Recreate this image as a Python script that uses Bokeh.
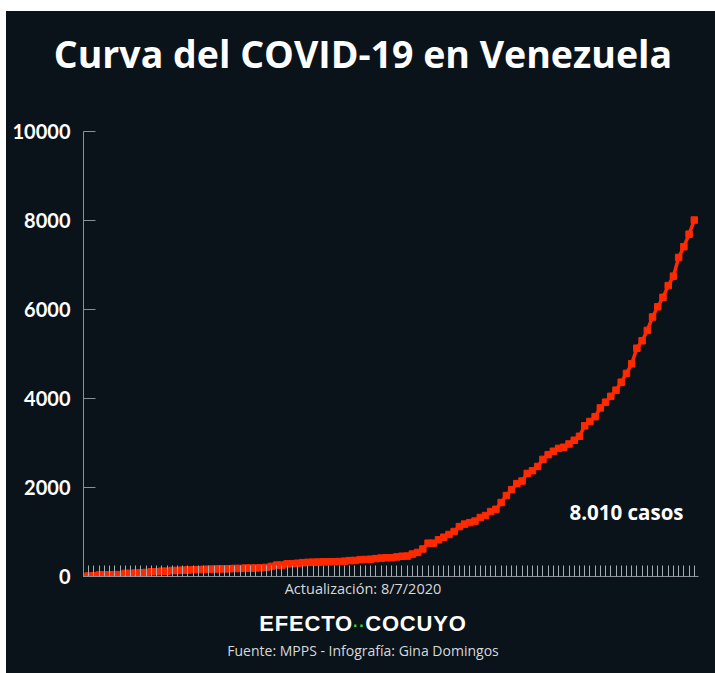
import pandas as pd
from bokeh.plotting import figure
from bokeh.models import Label, FixedTicker, Range1d, ColumnDataSource, Div, Spacer
from bokeh.layouts import column, row
from bokeh.embed import file_html
from bokeh.resources import INLINE

# ---- data ----
dates = pd.date_range("2020-03-13", "2020-07-08").strftime("%d/%m/%Y").tolist()
cases = [
    2, 10, 17, 33, 36, 36, 42, 42, 70, 70, 77, 84, 91, 107, 107, 119, 119, 135, 135,
    143, 146, 153, 155, 159, 165, 167, 171, 171, 175, 181, 181, 189, 189, 193, 197,
    204, 227, 256, 256, 285, 288, 298, 311, 318, 323, 325, 329, 331, 333,
    335, 345, 357, 361, 379, 381, 388, 402, 414, 422, 423, 440, 455, 459, 504, 541,
    618, 749, 749, 824, 882, 944, 1010, 1121, 1177, 1211, 1245, 1325, 1370, 1459, 1510,
    1662, 1819, 1952, 2087, 2145, 2316, 2377, 2473, 2632, 2738, 2814, 2879, 2904, 2978,
    3062, 3150, 3386, 3483, 3591, 3789, 3917, 4048, 4187, 4366, 4563, 4779, 5130, 5297,
    5530, 5832,
    6062, 6273, 6537, 6750, 7169, 7411, 7693, 8010,
]
y_ticks = [0, 2000, 4000, 6000, 8000, 10000]
title_text = "Curva del COVID-19 en Venezuela"
total_label = "8.010 casos"
update_text = "Actualización: 8/7/2020"
brand_left, brand_dots, brand_right = "EFECTO", "··", "COCUYO"
source_text = "Fuente: MPPS - Infografía: Gina Domingos"

day_index = list(range(len(cases)))
src = ColumnDataSource(dict(x=day_index, y=cases, date=dates))

BG = "#0a121a"
CW = 709                     # content width (page x 6..715)
TOP_H = 102                  # title block (page y 11..113)
FL, FT, FR, FB = 77, 18, 17, 12
FRAME_H = 445
FIG_H = FT + FRAME_H + FB    # page y 113..588
BOT_H = 673 - 11 - TOP_H - FIG_H
X_END = 117.8

p = figure(width=CW, height=FIG_H, output_backend="svg", toolbar_location=None,
           x_range=Range1d(0, X_END), y_range=Range1d(0, 10000),
           min_border_left=FL, min_border_top=FT, min_border_right=FR,
           min_border_bottom=FB, background_fill_color=BG,
           border_fill_color=None, outline_line_color=None, margin=0,
           styles={"background-color": BG})
p.grid.visible = False

# x axis: one small tick per day (minor ticks -> no labels)
xa = p.xaxis[0]
xa.ticker = FixedTicker(ticks=[], minor_ticks=day_index)
xa.minor_tick_in = 11
xa.minor_tick_out = 0
xa.minor_tick_line_color = "#a6acb2"
xa.minor_tick_line_width = 1
xa.major_tick_line_color = None
xa.axis_line_color = "#8a9096"
xa.major_label_standoff = 0

ya = p.yaxis[0]
ya.ticker = FixedTicker(ticks=y_ticks)
ya.major_tick_in = 12
ya.major_tick_out = 0
ya.major_tick_line_color = "#8a9096"
ya.minor_tick_line_color = None
ya.axis_line_color = "#8a9096"
ya.major_label_text_color = "white"
ya.major_label_text_font = "Lato"
ya.major_label_text_font_style = "bold"
ya.major_label_text_font_size = "20px"
ya.major_label_standoff = 13

RED = "#ff2a00"
p.line("x", "y", source=src, line_color=RED, line_width=3.5)
p.scatter("x", "y", source=src, marker="square", size=6.5, fill_color=RED, line_color=RED)

px_per_day = (CW - FL - FR) / X_END
px_per_case = FRAME_H / 10000.0
p.add_layout(Label(x=(626 - 83) / px_per_day, y=(576 - 511) / px_per_case,
                   text=total_label, text_color="white", text_font="Open Sans",
                   text_font_style="bold", text_font_size="20.5px",
                   text_align="center", text_baseline="alphabetic"))

top_styles = {"background-color": BG, "color": "white", "text-align": "center",
              "overflow": "hidden"}
bot_styles = {"background-color": BG, "color": "white", "text-align": "center",
              "overflow": "visible"}

top_html = (
    f'<div style="width:{CW}px;height:{TOP_H}px;background:{BG};box-sizing:border-box;'
    f'padding-top:24px;padding-left:5px;text-align:center;">'
    f'<div style="font-family:\'Open Sans\';font-weight:bold;font-size:37.5px;'
    f'line-height:37.5px;color:white;white-space:nowrap;">{title_text}</div></div>'
)
bot_html = (
    f'<div style="width:{CW}px;height:{BOT_H}px;box-sizing:border-box;'
    f'padding-left:5px;text-align:center;">'
    f'<div style="position:relative;top:-6px;z-index:5;font-family:\'Open Sans\';'
    f'font-size:14.5px;line-height:14.5px;height:14.5px;color:#d6d9dc;'
    f'white-space:nowrap;">{update_text}</div>'
    f'<div style="padding-top:10px;font-family:\'Liberation Sans\';font-weight:bold;'
    f'font-size:22px;line-height:22px;color:white;letter-spacing:0.8px;'
    f'white-space:nowrap;">{brand_left}<span style="color:#35d435;font-size:16px;">'
    f'{brand_dots}</span>{brand_right}</div>'
    f'<div style="padding-top:7px;font-family:\'Open Sans\';font-size:14px;'
    f'line-height:14px;color:#d6d9dc;white-space:nowrap;">{source_text}</div></div>'
)

top_div = Div(text=top_html, width=CW, height=TOP_H, margin=0, styles=top_styles)
bot_div = Div(text=bot_html, width=CW, height=BOT_H, margin=0, styles=bot_styles)

content = column(top_div, p, bot_div, spacing=0, margin=0,
                 styles={"background-color": BG})
layout = column(Spacer(width=715, height=11, margin=0),
                row(Spacer(width=6, height=662, margin=0), content, spacing=0, margin=0),
                spacing=0, margin=0)

open("out.html", "w").write(file_html(layout, INLINE))
